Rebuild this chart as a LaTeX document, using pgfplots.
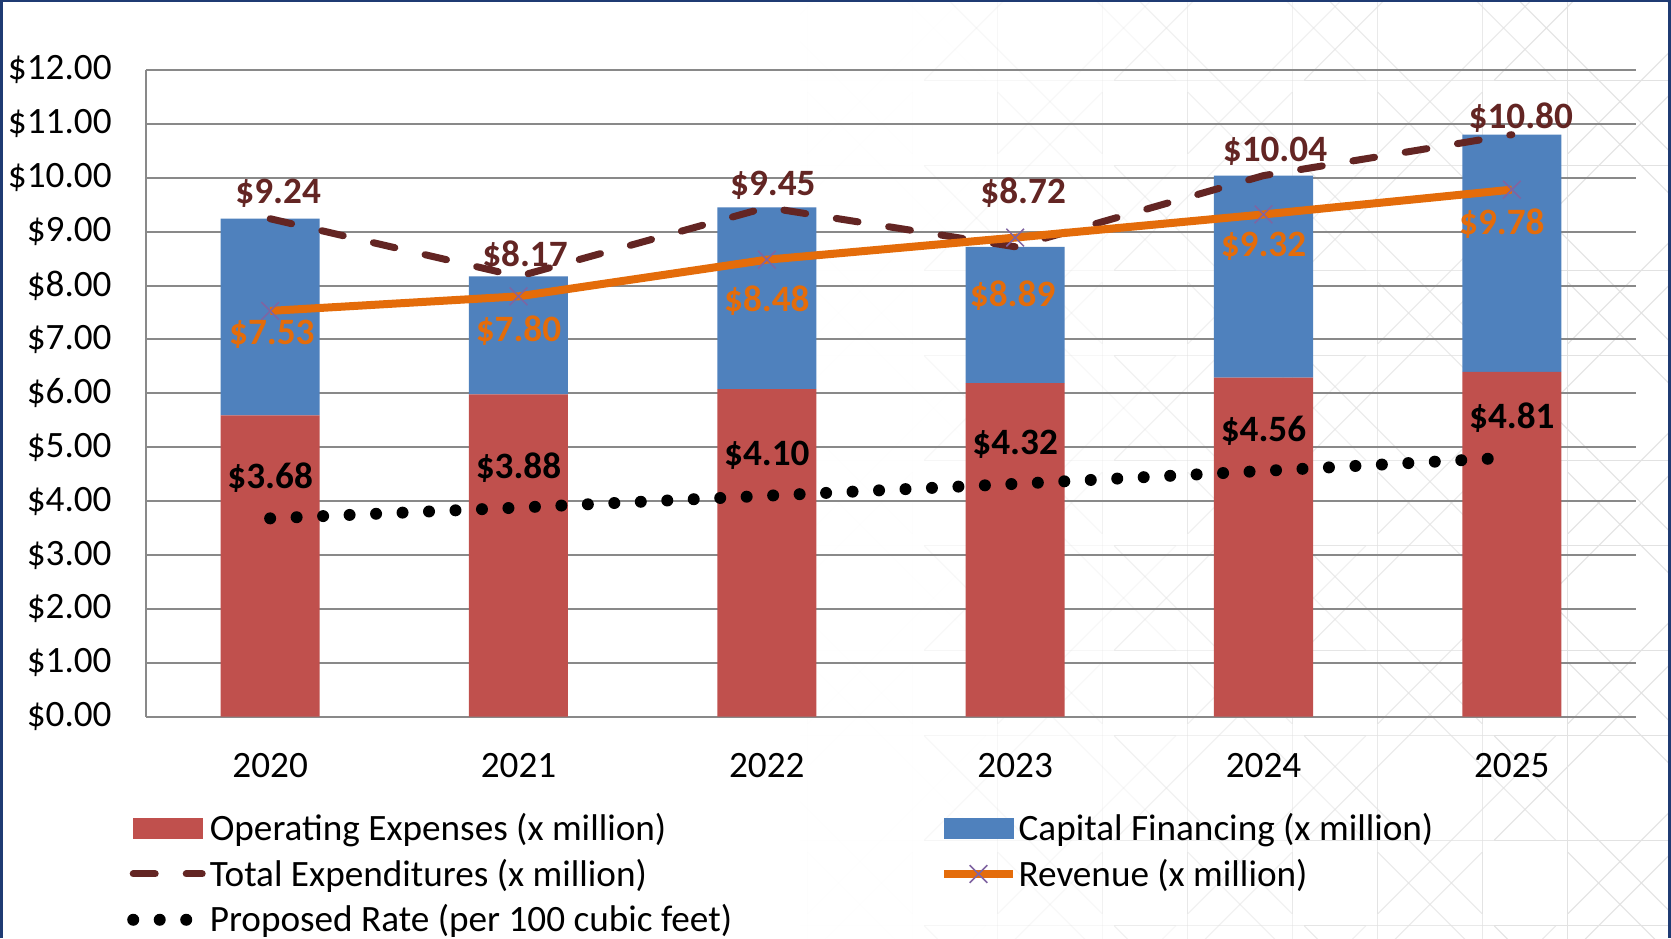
\documentclass[border=0pt]{standalone}
\usepackage{fontspec}
\setmainfont{Carlito}
\usepackage{pgfplots}
\pgfplotsset{compat=1.18}
\usepackage{pgfplotstable}

\definecolor{opred}{HTML}{C0504D}
\definecolor{capblue}{HTML}{4F81BD}
\definecolor{totred}{HTML}{632523}
\definecolor{revorange}{HTML}{E46C0A}
\definecolor{revpurple}{HTML}{8064A2}
\definecolor{gridgray}{HTML}{898989}
\definecolor{framenavy}{HTML}{1F3B73}
\definecolor{patgray}{HTML}{E2E2E2}

\newcommand{\lblfont}{\fontsize{18.6}{22}\selectfont}

% stacked bars: operating expenses and capital financing (x million)
\pgfplotstableread{
x op   cap
0 5.59 3.65
1 5.98 2.19
2 6.08 3.37
3 6.19 2.53
4 6.29 3.75
5 6.40 4.40
}\bars

% total expenditures, label offsets dx dy (pt)
\pgfplotstableread{
x y     dx   dy
0 9.24  4    7.75
1 8.17  3.25 4.85
2 9.45  3    6.2
3 8.72  4    21.4
4 10.04 5.75 7
5 10.80 4.5  3.2
}\total

% revenue
\pgfplotstableread{
x y    dx   dy
0 7.53 0.85 -17
1 7.80 0    -22.6
2 8.48 0    -26
3 8.89 -1.25 -34.5
4 9.32 0    -21.1
5 9.78 -5   -22.6
}\revenue

% proposed rate (per 100 cubic feet)
\pgfplotstableread{
x y    dx dy
0 3.68 0 15
1 3.88 0 14.65
2 4.10 0 15.3
3 4.32 0 14.5
4 4.56 0 14.7
5 4.81 0 14.6
}\rate

\pgfplotsset{
  common/.style={
    at={(73pt,110.65pt)}, anchor=south west,
    width=745pt, height=323.35pt, scale only axis,
    xmin=-0.5, xmax=5.5, ymin=0, ymax=12,
  },
  lbl/.style={
    point meta=y,
    visualization depends on={\thisrow{dx} \as \lblx},
    visualization depends on={\thisrow{dy} \as \lbly},
    nodes near coords={\$\pgfmathprintnumber[fixed,fixed zerofill,precision=2,assume math mode=true]{\pgfplotspointmeta}},
    every node near coord/.append style={anchor=base, inner sep=0pt,
      font=\lblfont\bfseries, text=#1, xshift=\lblx*1pt, yshift=\lbly*1pt},
  },
  lineleg/.style={legend image code/.code={\draw[##1] (0pt,0pt) -- (34.5pt,0pt);}},
  markleg/.style={legend image code/.code={\draw[##1, mark repeat=2, mark phase=2] plot coordinates {(0pt,0pt) (17.25pt,0pt) (34.5pt,0pt)};}},
  opleg/.style={legend image code/.code={\fill[opred] (0pt,-5pt) rectangle (34.5pt,5pt);}},
  capleg/.style={legend image code/.code={\fill[capblue] (0pt,-5pt) rectangle (34.5pt,5pt);}},
}

\begin{document}
\begin{tikzpicture}
\useasboundingbox (0,0) rectangle (835.5pt,469pt);
\fill[white] (0,0) rectangle (835.5pt,469pt);

% faint decorative background pattern (right part of the slide)
\begin{scope}
\clip (400pt,0pt) rectangle (835.5pt,469pt);
\foreach \cx in {430,525,620,715,810,905} {
  \foreach \cy in {-20,75,170,265,360,455} {
    \pgfmathsetmacro{\op}{min(1,max(0,(\cx-420)/400))}
    \foreach \k in {0,...,7} {
      \draw[patgray, line width=0.5pt, opacity=\op, shift={(\cx pt,\cy pt)}]
        (\k*45+22.5:68pt) -- (\k*45+157.5:68pt);
    }
  }
}
\end{scope}

\begin{axis}[common,
  ybar stacked, bar width=49.5pt,
  xtick={0,...,5}, xticklabels={2020,2021,2022,2023,2024,2025},
  ytick={0,...,12},
  yticklabels={\$0.00,\$1.00,\$2.00,\$3.00,\$4.00,\$5.00,\$6.00,\$7.00,\$8.00,\$9.00,\$10.00,\$11.00,\$12.00},
  ymajorgrids, grid style={gridgray, line width=1pt},
  axis x line*=bottom, axis y line*=left,
  axis line style={gridgray, line width=1pt},
  major tick length=0pt,
  tick label style={font=\lblfont, text=black},
  xticklabel style={anchor=north, inner sep=0pt, yshift=-18pt},
  yticklabel style={anchor=east, inner sep=0pt, xshift=-17pt},
]
\addplot[fill=opred, draw=none] table[x=x,y=op]{\bars};
\addplot[fill=capblue, draw=none] table[x=x,y=cap]{\bars};
\end{axis}

\begin{axis}[common, hide axis, clip=false,
  legend columns=2, legend cell align=left,
  legend style={at={(-0.0126,-0.149)}, anchor=north west, draw=none, fill=none,
    inner sep=0pt, outer sep=0pt, row sep=7.8pt, font=\lblfont,
    nodes={inner sep=0pt},
    /tikz/every odd column/.append style={column sep=0.8pt},
    /tikz/every even column/.append style={column sep=104pt}},
]
\addlegendimage{opleg}
\addlegendentry{Operating Expenses (x million)}
\addlegendimage{capleg}
\addlegendentry{Capital Financing (x million)}

\addplot[totred, line width=3.5pt, dash pattern=on 11pt off 15.5pt, line cap=round, line join=round,
  lbl=totred, lineleg]
  table[x=x,y=y]{\total};
\addlegendentry{Total Expenditures (x million)}

\addplot[revorange, line width=4pt, line join=round, mark=x,
  mark options={revpurple, line width=0.75pt, solid, mark size=6.25pt},
  lbl=revorange, markleg]
  table[x=x,y=y]{\revenue};
\addlegendentry{Revenue (x million)}

\addplot[black, line width=6pt, dash pattern=on 0pt off 13.25pt, line cap=round,
  lbl=black, lineleg]
  table[x=x,y=y]{\rate};
\addlegendentry{Proposed Rate (per 100 cubic feet)}
\end{axis}

\draw[framenavy, line width=1.5pt] (0.75pt,0pt) -- (0.75pt,468.6pt) -- (834.75pt,468.6pt) -- (834.75pt,0pt);
\end{tikzpicture}
\end{document}
